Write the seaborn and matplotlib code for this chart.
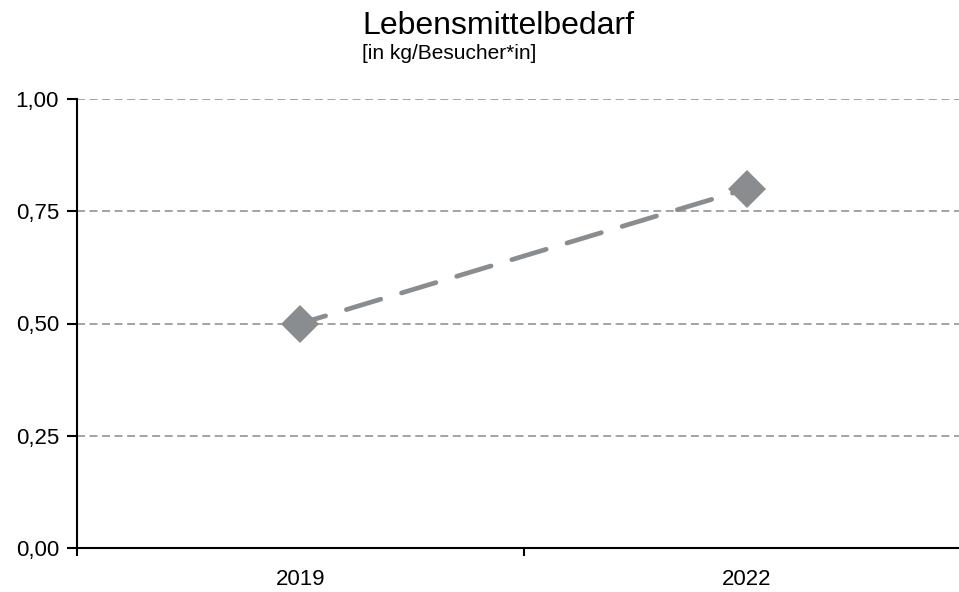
import matplotlib
matplotlib.use("Agg")
import matplotlib.pyplot as plt
import seaborn as sns
import pandas as pd

years = ["2019", "2022"]
values = [0.50, 0.80]
yticks = [0.0, 0.25, 0.5, 0.75, 1.0]
ytick_labels = ["0,00", "0,25", "0,50", "0,75", "1,00"]
title = "Lebensmittelbedarf"
subtitle = "[in kg/Besucher*in]"

sns.set_theme(style="white")
plt.rcParams['font.family'] = ['Liberation Sans', 'DejaVu Sans']

df = pd.DataFrame({"Jahr": years, "Wert": values})

fig = plt.figure(figsize=(9.59, 5.92), dpi=100)
ax = fig.add_axes([77/959, 1-548/592, (970-77)/959, (548-99)/592])

for y in yticks[1:]:
    ax.axhline(y, color="#8a8a8a", lw=1.1, linestyle=(0, (5.2, 3.0)), zorder=0)

sns.lineplot(data=df, x="Jahr", y="Wert", ax=ax, color="#8a8d90",
             marker="D", markersize=19, markeredgewidth=0,
             linewidth=3.4, linestyle=(2, (7.6, 4.6)), dash_capstyle="round", zorder=3)

ax.set_xlim(-0.5, 1.5)
ax.set_ylim(0, 1.0)
ax.set_yticks(yticks)
ax.set_yticklabels(ytick_labels)
ax.set_xticks([0, 1])
ax.set_xticklabels(years)
ax.set_xticks([-0.5, 0.5, 1.5], minor=True)
ax.tick_params(axis="x", which="major", length=0, pad=15, labelsize=16, colors="black")
ax.tick_params(axis="x", which="minor", length=6, width=1.5, direction="out", color="black", bottom=True)
ax.tick_params(axis="y", length=7, width=1.5, direction="out", labelsize=16, colors="black", left=True, pad=6)
ax.set_xlabel("")
ax.set_ylabel("")

for s in ["top", "right"]:
    ax.spines[s].set_visible(False)
for s in ["left", "bottom"]:
    ax.spines[s].set_color("black")
    ax.spines[s].set_linewidth(1.5)

fig.text(362/959, 1-34/592, title, fontsize=23, ha="left", va="baseline", color="black")
fig.text(362/959, 1-59/592, subtitle, fontsize=15, ha="left", va="baseline", color="black")

fig.savefig("out.png", dpi=100)
